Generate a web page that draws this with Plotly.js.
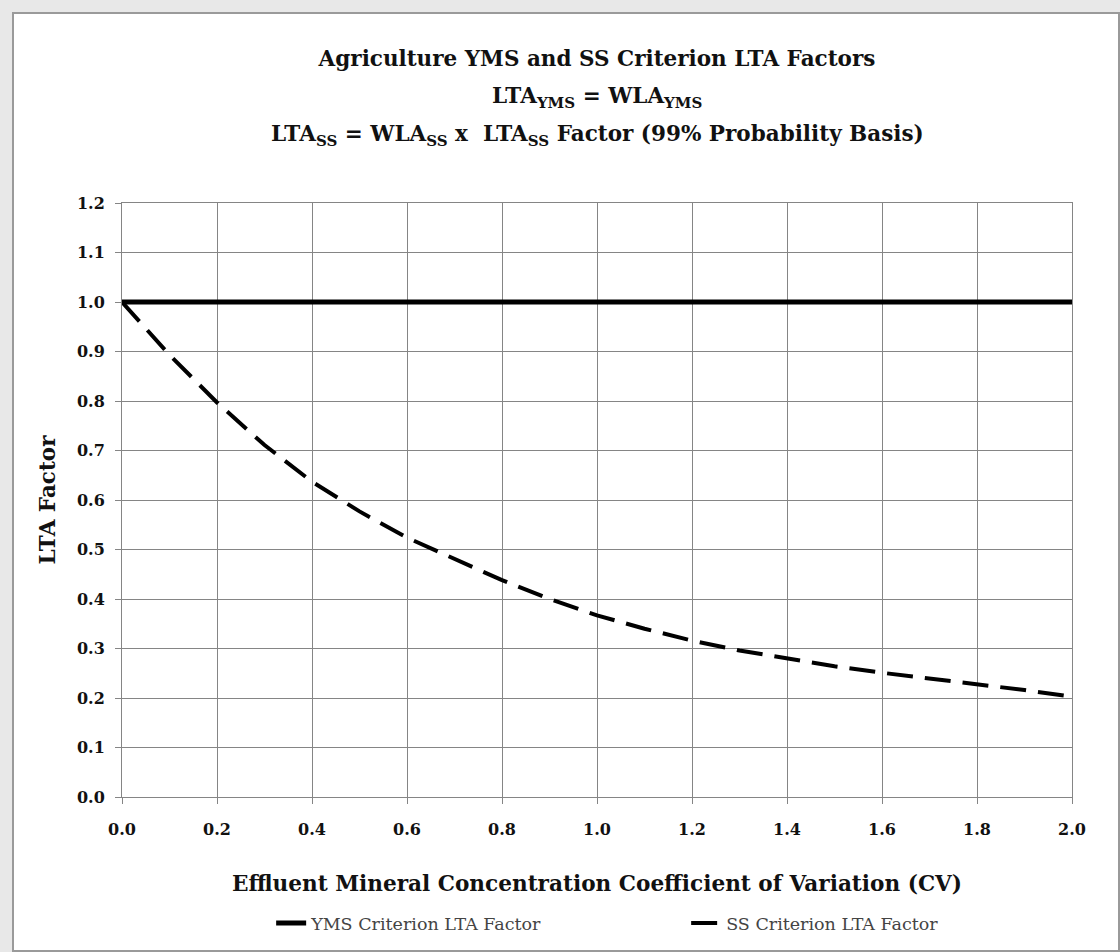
<!DOCTYPE html>
<html>
<head>
<meta charset="utf-8">
<script src="https://cdn.plot.ly/plotly-3.0.1.min.js"></script>
<style>
  html, body { margin: 0; padding: 0; background: #e8e8e8; }
  #frame { position: absolute; left: 12px; top: 12px; width: 1104px; height: 936px;
           border: 2px solid #9a9a9a; background: #ffffff; }
  #chart { width: 1104px; height: 936px; }
</style>
</head>
<body>
<div id="frame"><div id="chart"></div></div>
<script>
// Data
const cv = [0.0, 0.1, 0.2, 0.3, 0.4, 0.5, 0.6, 0.7, 0.8, 0.9, 1.0,
            1.1, 1.2, 1.3, 1.4, 1.5, 1.6, 1.7, 1.8, 1.9, 2.0];
const ymsFactor = [1.0, 1.0, 1.0, 1.0, 1.0, 1.0, 1.0, 1.0, 1.0, 1.0, 1.0,
                   1.0, 1.0, 1.0, 1.0, 1.0, 1.0, 1.0, 1.0, 1.0, 1.0];
const ssFactor = [1.0, 0.893, 0.797, 0.711, 0.637, 0.577, 0.524, 0.480, 0.438, 0.400, 0.367,
                  0.340, 0.316, 0.296, 0.279, 0.264, 0.251, 0.240, 0.228, 0.216, 0.203];
const seriesNames = ["YMS Criterion LTA Factor", "SS Criterion LTA Factor"];
const titleLines = [
  "Agriculture YMS and SS Criterion LTA Factors",
  "LTA<sub>YMS</sub> = WLA<sub>YMS</sub>",
  "LTA<sub>SS</sub> = WLA<sub>SS</sub> x  LTA<sub>SS</sub> Factor (99% Probability Basis)"
];
const xTitle = "Effluent Mineral Concentration Coefficient of Variation (CV)";
const yTitle = "LTA Factor";

const serif = "DejaVu Serif, Liberation Serif, serif";
const gridCol = "#858585";

const traces = [
  { x: cv, y: ymsFactor, name: seriesNames[0], type: "scatter", mode: "lines",
    line: { color: "#000000", width: 5 } },
  { x: cv, y: ssFactor, name: seriesNames[1], type: "scatter", mode: "lines",
    line: { color: "#000000", width: 4, dash: "26px,12px" } }
];

const layout = {
  width: 1104, height: 936,
  margin: { l: 108, r: 46, t: 189, b: 153, autoexpand: false },
  paper_bgcolor: "#ffffff",
  plot_bgcolor: "#ffffff",
  font: { family: serif, color: "#111111" },
  title: { text: "<b>" + titleLines[0] + "</b>", font: { family: serif, size: 21.5, color: "#111111" },
           x: 0.5, xanchor: "center", xref: "paper", y: 1 - 44 / 936, yanchor: "middle", yref: "container" },
  annotations: [
    { text: "<b>" + titleLines[1] + "</b>", xref: "paper", yref: "paper", x: 0.5, y: (783 - 83) / 594,
      showarrow: false, xanchor: "center", yanchor: "middle", font: { family: serif, size: 21.5, color: "#111111" } },
    { text: "<b>" + titleLines[2] + "</b>", xref: "paper", yref: "paper", x: 0.5, y: (783 - 121) / 594,
      showarrow: false, xanchor: "center", yanchor: "middle", font: { family: serif, size: 21.5, color: "#111111" } }
  ],
  xaxis: {
    range: [0, 2], dtick: 0.2, tick0: 0, tickformat: ".1f",
    showgrid: true, gridcolor: gridCol, gridwidth: 1,
    showline: true, linecolor: gridCol, linewidth: 1, mirror: true,
    ticks: "outside", ticklen: 6, tickcolor: gridCol,
    zeroline: false, ticklabelstandoff: 12,
    tickfont: { family: serif, size: 16, color: "#111111", weight: "bold" },
    title: { text: "<b>" + xTitle + "</b>", font: { family: serif, size: 21.6, color: "#111111" }, standoff: 37 }
  },
  yaxis: {
    range: [0, 1.2], dtick: 0.1, tick0: 0, tickformat: ".1f",
    showgrid: true, gridcolor: gridCol, gridwidth: 1,
    showline: true, linecolor: gridCol, linewidth: 1, mirror: true,
    ticks: "outside", ticklen: 6, tickcolor: gridCol,
    zeroline: false, ticklabelstandoff: 7,
    tickfont: { family: serif, size: 16, color: "#111111", weight: "bold" },
    title: { text: "<b>" + yTitle + "</b>", font: { family: serif, size: 21.5, color: "#111111" }, standoff: 15 }
  },
  showlegend: true,
  legend: {
    orientation: "h", x: 0.157, xanchor: "left", y: 1 - 909 / 936, yref: "container", yanchor: "middle",
    entrywidth: 370, entrywidthmode: "pixels",
    font: { family: serif, size: 17.5, color: "#444444" },
    bgcolor: "rgba(0,0,0,0)"
  }
};

Plotly.newPlot("chart", traces, layout, { displayModeBar: false, staticPlot: true });
</script>
</body>
</html>
